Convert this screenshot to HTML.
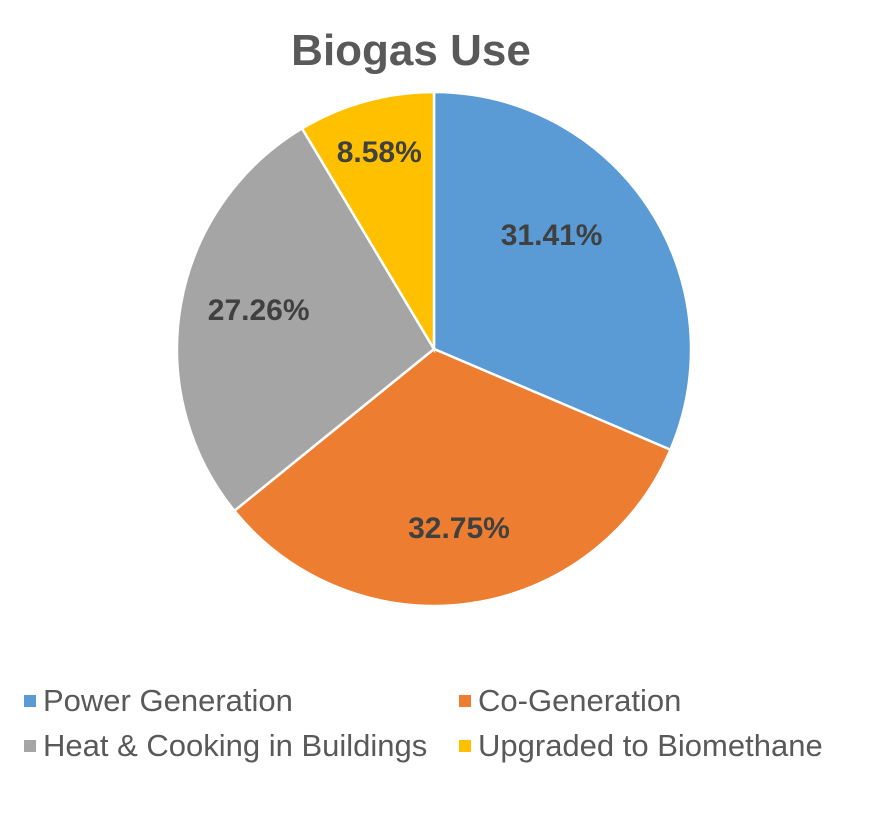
<!DOCTYPE html>
<html><head><meta charset="utf-8"><style>
body{margin:0;background:#fff;}
svg text{font-family:"Liberation Sans",Arial,sans-serif;}
</style></head><body>
<svg id="chart" width="870" height="828">
<text x="411" y="65" text-anchor="middle" font-size="44" font-weight="bold" fill="#595959">Biogas Use</text>
<g id="slices"></g>
<g id="labels"></g>
<g id="legend"></g>
</svg>
<script>
const categories=["Power Generation","Co-Generation","Heat & Cooking in Buildings","Upgraded to Biomethane"];
const values=[31.41,32.75,27.26,8.58];
const labels=["31.41%","32.75%","27.26%","8.58%"];
const colors=["#5b9bd5","#ed7d31","#a5a5a5","#ffc000"];
const labelFrac=[0.64,0.7,0.7,0.8];
const labelShift=[-0.19,0,0.05,0];
const NS="http://www.w3.org/2000/svg";
const cx=434,cy=349,r=257;
const total=values.reduce((a,b)=>a+b,0);
function pt(a,rr){return [cx+rr*Math.sin(a),cy-rr*Math.cos(a)];}
let acc=0;
const gs=document.getElementById('slices'),gl=document.getElementById('labels'),gL=document.getElementById('legend');
values.forEach((v,i)=>{
  const a0=acc/total*2*Math.PI;acc+=v;const a1=acc/total*2*Math.PI;
  const p0=pt(a0,r),p1=pt(a1,r);const large=(a1-a0)>Math.PI?1:0;
  const p=document.createElementNS(NS,'path');
  p.setAttribute('d',`M${cx},${cy}L${p0[0]},${p0[1]}A${r},${r} 0 ${large} 1 ${p1[0]},${p1[1]}Z`);
  p.setAttribute('fill',colors[i]);p.setAttribute('stroke','#fff');p.setAttribute('stroke-width','2.5');
  
  
  gs.appendChild(p);
  const m=(a0+a1)/2+labelShift[i];const lp=pt(m,r*labelFrac[i]);
  const t=document.createElementNS(NS,'text');
  t.setAttribute('x',lp[0]);t.setAttribute('y',lp[1]+11);t.setAttribute('text-anchor','middle');
  t.setAttribute('font-size','30');t.setAttribute('font-weight','bold');t.setAttribute('fill','#404040');
  t.textContent=labels[i];
  
  
  gl.appendChild(t);
  const col=i%2,row=Math.floor(i/2);
  const lx=col?459:24,ly=row?746:701;
  const g=document.createElementNS(NS,'g');
  
  
  const s=document.createElementNS(NS,'rect');
  s.setAttribute('x',lx);s.setAttribute('y',ly-6);s.setAttribute('width',12);s.setAttribute('height',12);s.setAttribute('fill',colors[i]);
  g.appendChild(s);
  const tt=document.createElementNS(NS,'text');
  tt.setAttribute('x',lx+19);tt.setAttribute('y',ly+10);tt.setAttribute('font-size','31');tt.setAttribute('fill','#595959');
  tt.textContent=categories[i];g.appendChild(tt);
  gL.appendChild(g);
});
</script>
</body></html>
